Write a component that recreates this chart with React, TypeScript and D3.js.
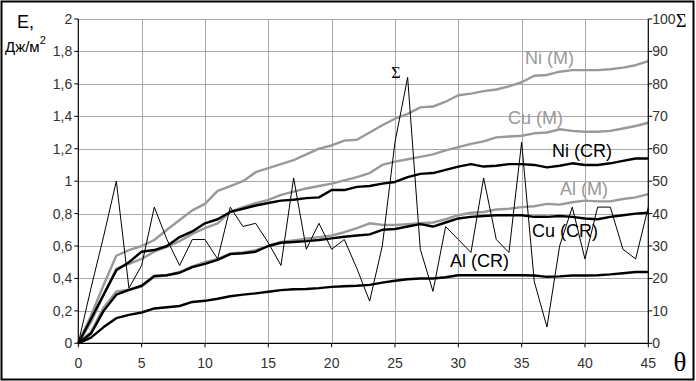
import React from "react";
import * as d3 from "d3";

const theta = d3.range(0, 46);
const NiM = [0, 0.17, 0.36, 0.54, 0.575, 0.6, 0.637, 0.7, 0.76, 0.82, 0.86, 0.94, 0.97, 1.0, 1.055, 1.08, 1.105, 1.13, 1.165, 1.2, 1.22, 1.25, 1.255, 1.3, 1.345, 1.385, 1.415, 1.455, 1.46, 1.49, 1.53, 1.54, 1.555, 1.565, 1.585, 1.61, 1.65, 1.655, 1.675, 1.685, 1.685, 1.685, 1.69, 1.7, 1.715, 1.74];
const CuM = [0, 0.13, 0.3, 0.46, 0.49, 0.52, 0.565, 0.595, 0.63, 0.675, 0.71, 0.74, 0.81, 0.84, 0.865, 0.885, 0.915, 0.935, 0.955, 0.97, 0.985, 1.005, 1.025, 1.05, 1.1, 1.12, 1.135, 1.15, 1.165, 1.19, 1.21, 1.23, 1.245, 1.27, 1.275, 1.28, 1.295, 1.3, 1.32, 1.31, 1.305, 1.305, 1.31, 1.325, 1.34, 1.36];
const NiCR = [0, 0.15, 0.3, 0.45, 0.5, 0.565, 0.575, 0.6, 0.655, 0.69, 0.74, 0.765, 0.81, 0.83, 0.85, 0.865, 0.88, 0.885, 0.895, 0.9, 0.945, 0.945, 0.965, 0.97, 0.985, 0.995, 1.025, 1.045, 1.05, 1.07, 1.09, 1.105, 1.09, 1.095, 1.105, 1.105, 1.1, 1.085, 1.095, 1.11, 1.1, 1.1, 1.11, 1.125, 1.14, 1.14];
const AlM = [0, 0.07, 0.22, 0.32, 0.33, 0.35, 0.41, 0.42, 0.44, 0.475, 0.5, 0.52, 0.555, 0.56, 0.575, 0.6, 0.625, 0.635, 0.645, 0.655, 0.665, 0.685, 0.71, 0.74, 0.73, 0.73, 0.735, 0.74, 0.745, 0.765, 0.79, 0.805, 0.81, 0.825, 0.83, 0.84, 0.845, 0.86, 0.855, 0.87, 0.88, 0.875, 0.875, 0.89, 0.9, 0.92];
const CuCR = [0, 0.06, 0.2, 0.3, 0.33, 0.355, 0.415, 0.42, 0.435, 0.47, 0.49, 0.515, 0.55, 0.555, 0.565, 0.6, 0.62, 0.625, 0.63, 0.637, 0.647, 0.657, 0.665, 0.672, 0.7, 0.705, 0.72, 0.735, 0.72, 0.745, 0.77, 0.78, 0.785, 0.79, 0.79, 0.79, 0.78, 0.78, 0.785, 0.78, 0.77, 0.765, 0.78, 0.79, 0.8, 0.805];
const AlCR = [0, 0.035, 0.1, 0.155, 0.175, 0.19, 0.215, 0.222, 0.23, 0.255, 0.262, 0.275, 0.29, 0.3, 0.308, 0.318, 0.328, 0.333, 0.335, 0.34, 0.348, 0.352, 0.355, 0.36, 0.374, 0.386, 0.395, 0.4, 0.4, 0.407, 0.42, 0.42, 0.42, 0.42, 0.42, 0.42, 0.418, 0.41, 0.413, 0.418, 0.418, 0.42, 0.425, 0.432, 0.44, 0.44];
const Sigma = [0, 17, 33, 50, 17, 24, 42, 32, 24, 32, 32, 26, 42, 36, 37, 31, 24, 51, 29, 37, 29, 32, 23, 13, 30, 62, 82, 29, 16, 36, 32, 28, 51, 32, 28, 62, 19, 5, 30, 42, 26, 42, 42, 29, 26, 42];

const xTicks = [0, 5, 10, 15, 20, 25, 30, 35, 40, 45];
const yTicks = [0, 0.2, 0.4, 0.6, 0.8, 1, 1.2, 1.4, 1.6, 1.8, 2];
const y2Ticks = [0, 10, 20, 30, 40, 50, 60, 70, 80, 90, 100];

const W = 696, H = 381;
const FONT = "'Liberation Sans', Arial, sans-serif";
const SERIF = "'Liberation Serif', 'DejaVu Serif', serif";

export default function App() {
  const x = d3.scaleLinear().domain([0, 45]).range([78.3, 648.3]);
  const y = d3.scaleLinear().domain([0, 2]).range([343.3, 19]);
  const y2 = d3.scaleLinear().domain([0, 100]).range([343.3, 19]);
  const line = (vals: number[]) =>
    d3.line<number>().x((_, i) => x(theta[i])).y((d) => y(d))(vals) || "";
  const line2 = d3.line<number>().x((_, i) => x(theta[i])).y((d) => y2(d))(Sigma) || "";
  const fmt = (v: number) => String(v).replace(".", ",");
  const gray = "#999999";
  const x0 = x(0), x1 = x(45), yb = y(0), yt = y(2);

  const series = [
    { v: NiM, c: gray },
    { v: CuM, c: gray },
    { v: AlM, c: gray },
    { v: NiCR, c: "#000" },
    { v: CuCR, c: "#000" },
    { v: AlCR, c: "#000" },
  ];

  return (
    <svg width={W} height={H} style={{ position: "absolute", left: 0, top: 0, background: "#fff" }} fontFamily={FONT}>
      <rect x={0} y={0} width={W} height={H} fill="#fff" />
      <rect x={1.5} y={1.5} width={692} height={378} fill="none" stroke="#000" strokeWidth={2} />
      {/* grid */}
      {xTicks.filter((t) => t > 0 && t < 45).map((t) => (
        <line key={"gx" + t} x1={Math.round(x(t)) + 0.5} x2={Math.round(x(t)) + 0.5} y1={yt} y2={yb} stroke="#a8a8a8" strokeWidth={1} />
      ))}
      {yTicks.filter((t) => t > 0).map((t) => (
        <line key={"gy" + t} x1={x0} x2={x1} y1={Math.round(y(t)) + 0.5} y2={Math.round(y(t)) + 0.5} stroke="#a8a8a8" strokeWidth={1} />
      ))}
      {/* series */}
      {series.map((s, i) => (
        <path key={i} d={line(s.v)} fill="none" stroke={s.c} strokeWidth={2.4} strokeLinejoin="round" />
      ))}
      <path d={line2} fill="none" stroke="#000" strokeWidth={1} strokeLinejoin="miter" />
      {/* axes */}
      <line x1={x0} x2={x0} y1={yt} y2={yb} stroke="#000" strokeWidth={1.2} />
      <line x1={x1} x2={x1} y1={yt} y2={yb} stroke="#000" strokeWidth={1.2} />
      <line x1={x0} x2={x1} y1={yb} y2={yb} stroke="#000" strokeWidth={1.2} />
      {yTicks.map((t) => (
        <g key={"ly" + t}>
          <line x1={x0 - 4} x2={x0} y1={y(t)} y2={y(t)} stroke="#000" />
          <text x={x0 - 6} y={y(t) + 5} textAnchor="end" fontSize={14} fill="#333">{fmt(t)}</text>
        </g>
      ))}
      {y2Ticks.map((t) => (
        <g key={"ry" + t}>
          <line x1={x1} x2={x1 + 4} y1={y2(t)} y2={y2(t)} stroke="#000" />
          <text x={x1 + 4} y={y2(t) + 5} textAnchor="start" fontSize={14} fill="#333">{t}</text>
        </g>
      ))}
      {xTicks.map((t) => (
        <g key={"bx" + t}>
          <line x1={x(t)} x2={x(t)} y1={yb} y2={yb + 4} stroke="#000" />
          <text x={x(t)} y={368} textAnchor="middle" fontSize={14} fill="#333">{t}</text>
        </g>
      ))}
      {/* axis titles */}
      <text x={17} y={28} fontSize={18} fill="#000">E,</text>
      <text x={5} y={52} fontSize={15} fill="#000">Дж/м<tspan dy={-8} fontSize={11}>2</tspan></text>
      <text x={676} y={27} fontSize={18} fontFamily={SERIF} textAnchor="start" fill="#000">Σ</text>
      <text x={680} y={371} fontSize={27} fontFamily={SERIF} textAnchor="middle" fill="#000">θ</text>
      {/* series labels */}
      <text x={396} y={78} fontSize={16} fontFamily={SERIF} textAnchor="middle" fill="#000">Σ</text>
      <text x={525} y={64} fontSize={18} fill={gray}>Ni (M)</text>
      <text x={508} y={124} fontSize={18} fill={gray}>Cu (M)</text>
      <text x={552} y={157} fontSize={18} fill="#000">Ni (CR)</text>
      <text x={560} y={195} fontSize={18} fill={gray}>Al (M)</text>
      <text x={532} y={237} fontSize={18} fill="#000">Cu (CR)</text>
      <text x={450} y={267} fontSize={18} fill="#000">Al (CR)</text>
    </svg>
  );
}
